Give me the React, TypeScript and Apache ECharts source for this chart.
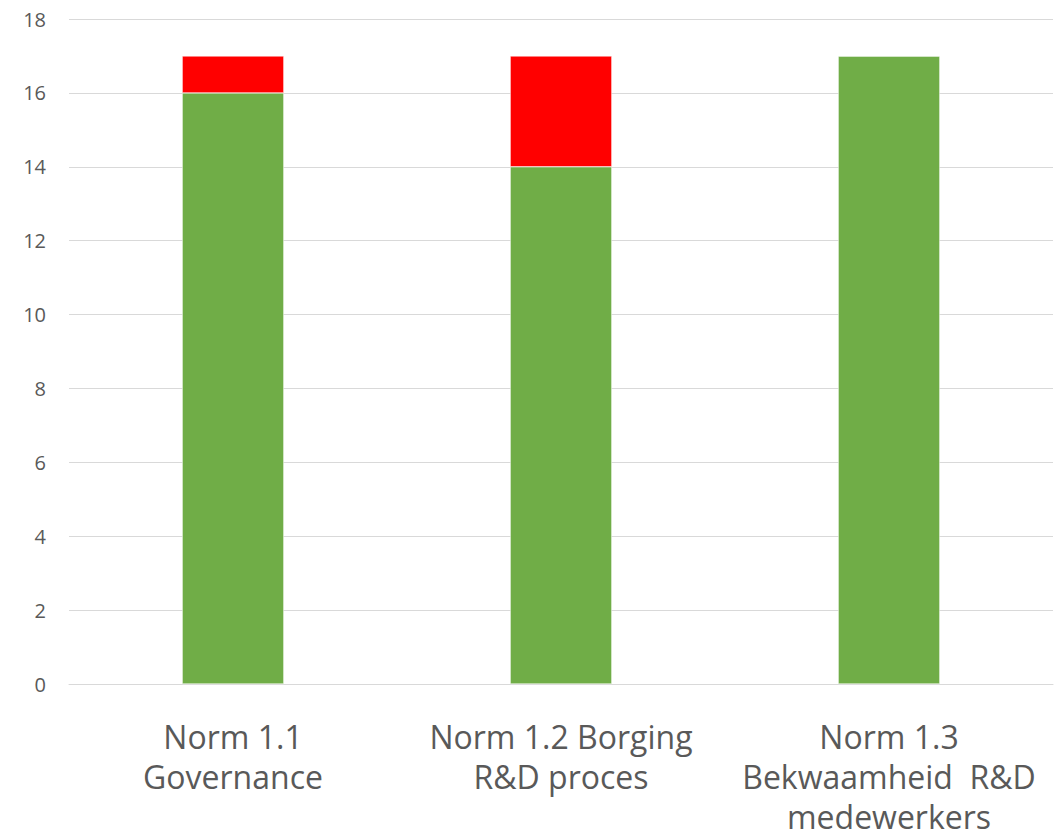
import React, { useEffect, useRef } from "react";
import * as echarts from "echarts";

const categories = [
  "Norm 1.1\nGovernance",
  "Norm 1.2 Borging\nR&D proces",
  "Norm 1.3\nBekwaamheid  R&D\nmedewerkers",
];
const greenValues = [16, 14, 17];
const redValues = [1, 3, 0];
const yMin = 0;
const yMax = 18;
const yInterval = 2;

export default function App() {
  const ref = useRef<HTMLDivElement>(null);

  useEffect(() => {
    if (!ref.current) return;
    const chart = echarts.init(ref.current, null, { renderer: "svg" });
    const font = "'Open Sans', 'Noto Sans', sans-serif";
    chart.setOption({
      animation: false,
      backgroundColor: "#ffffff",
      grid: {
        left: 69,
        right: 5,
        top: 19,
        bottom: 153,
        containLabel: false,
        outerBoundsMode: "none",
      },
      xAxis: {
        type: "category",
        data: categories,
        axisLine: { show: true, lineStyle: { color: "#d9d9d9", width: 1 } },
        axisTick: { show: false },
        axisLabel: {
          color: "#595959",
          fontSize: 32,
          fontFamily: font,
          lineHeight: 40,
          margin: 32,
          interval: 0,
        },
      },
      yAxis: {
        type: "value",
        min: yMin,
        max: yMax,
        interval: yInterval,
        axisLine: { show: false },
        axisTick: { show: false },
        splitLine: { lineStyle: { color: "#d9d9d9", width: 1 } },
        axisLabel: {
          color: "#595959",
          fontSize: 20,
          fontFamily: font,
          margin: 23,
        },
      },
      series: [
        {
          type: "bar",
          stack: "total",
          data: greenValues,
          barWidth: "31%",
          itemStyle: { color: "#70ad47", borderColor: "#ffffff", borderWidth: 0.5 },
        },
        {
          type: "bar",
          stack: "total",
          data: redValues,
          barWidth: "31%",
          itemStyle: { color: "#ff0000", borderColor: "#ffffff", borderWidth: 0.5 },
        },
      ],
    });
    return () => chart.dispose();
  }, []);

  return (
    <div
      ref={ref}
      style={{ position: "absolute", left: 0, top: 0, width: 1058, height: 837 }}
    />
  );
}
